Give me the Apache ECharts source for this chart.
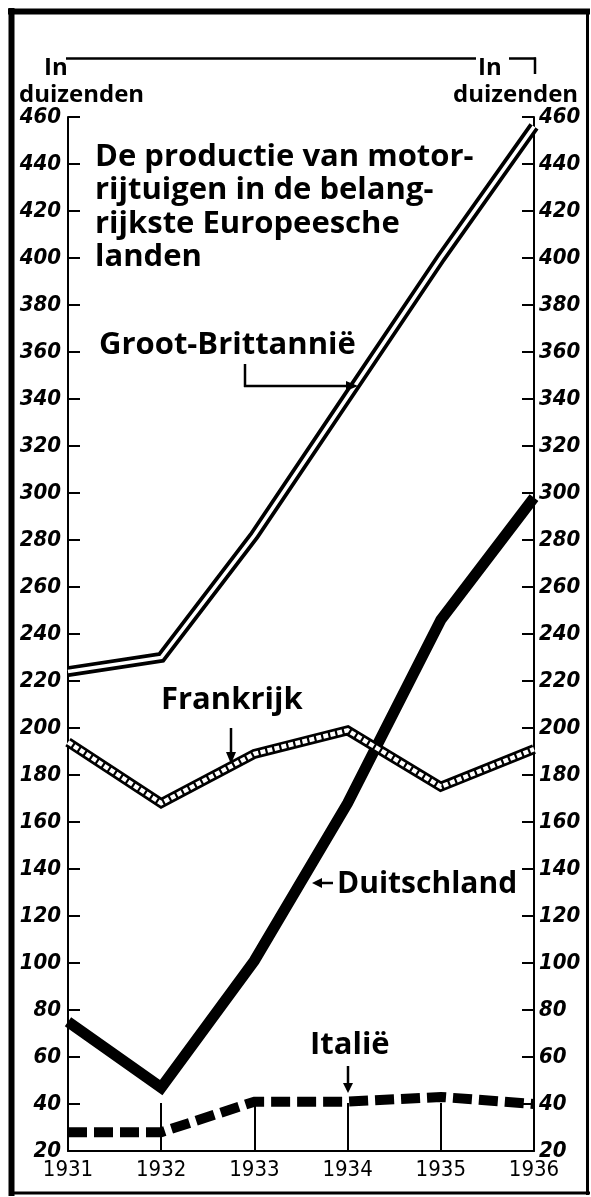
<!DOCTYPE html>
<html><head><meta charset="utf-8">
<script src="https://cdn.jsdelivr.net/npm/echarts@6/dist/echarts.min.js"></script>
<style>html,body{margin:0;padding:0;background:#fff}#c{width:591px;height:1197px}</style>
</head><body><div id="c"></div>
<script>
// ---- data ----
const years = ['1931', '1932', '1933', '1934', '1935', '1936'];
const grootBrittannie = [224, 230, 282, 341, 400, 456];
const frankrijk = [194, 168, 189, 199, 175, 191];
const duitschland = [75, 47, 101, 168, 246, 298];
const italie = [28, 28, 41, 41, 43, 40];
const yMin = 20, yMax = 460, yStep = 20;
const titleLines = ['De productie van motor-', 'rijtuigen in de belang-', 'rijkste Europeesche', 'landen'];

// ---- chart ----
const chart = echarts.init(document.getElementById('c'), null, {renderer: 'canvas'});
const K = '#000';
const labFont = "'Open Sans', 'DejaVu Sans', sans-serif";
const numFont = "'DejaVu Sans Condensed', 'DejaVu Sans', sans-serif";
const yAxisBase = (pos) => ({
  type: 'value', position: pos, min: yMin, max: yMax, interval: yStep,
  axisLine: {show: true, lineStyle: {color: K, width: 2}},
  axisTick: {show: true, inside: true, length: 12, lineStyle: {color: K, width: 2}},
  axisLabel: {color: K, fontFamily: numFont, fontStyle: 'italic', fontWeight: 'bold', fontSize: 22, margin: pos === 'left' ? 7 : 5},
  splitLine: {show: false}
});
const line = (data, width, color, z, extra) => Object.assign({
  type: 'line', data: data, symbol: 'none', silent: true, z: z,
  lineStyle: Object.assign({color: color, width: width, cap: 'butt', join: 'miter'}, extra || {})
});

function txt(x, y, text, size, align) {
  return {type: 'text', x: x, y: y, z: 100, style: {text: text, fill: K, font: '700 ' + size + 'px ' + labFont, align: align || 'left', verticalAlign: 'middle'}};
}
function seg(x1, y1, x2, y2, w) {
  return {type: 'line', z: 100, shape: {x1: x1, y1: y1, x2: x2, y2: y2}, style: {stroke: K, lineWidth: w || 2.5}};
}
function tri(points) {
  return {type: 'polygon', z: 100, shape: {points: points}, style: {fill: K}};
}

const graphic = [
  // border
  seg(11.5, 8, 11.5, 1196, 6), seg(8, 11.5, 590, 11.5, 6),
  seg(587.5, 9, 587.5, 1195, 3), seg(9, 1193, 590, 1193, 3),
  // top rule + unit labels
  seg(66, 58.5, 476, 58.5, 2.5),
  seg(509, 58.5, 536, 58.5, 2.5), seg(535, 57.5, 535, 74, 2.5),
  txt(44, 68, 'In', 24), txt(19, 95, 'duizenden', 24),
  txt(478, 68, 'In', 24), txt(453, 95, 'duizenden', 24)
];
titleLines.forEach((t, i) => graphic.push(txt(95, 157 + i * 33.5, t, 31)));
graphic.push(
  txt(99, 345, 'Groot-Brittannië', 31),
  seg(245, 364, 245, 387), seg(244, 386, 350, 386), tri([[346, 381], [358, 386], [346, 391]]),
  txt(161, 700, 'Frankrijk', 31),
  seg(231, 728, 231, 755), tri([[226, 752], [231, 764], [236, 752]]),
  txt(337, 884, 'Duitschland', 30),
  seg(333, 883, 320, 883), tri([[322, 878], [312, 883], [322, 888]]),
  txt(310, 1045, 'Italië', 31),
  seg(348, 1066, 348, 1090), tri([[343, 1083], [348, 1093], [353, 1083]])
);

chart.setOption({
  backgroundColor: '#fff',
  animation: false,
  grid: {left: 68, right: 57, top: 117, bottom: 46, containLabel: false},
  xAxis: {
    type: 'category', data: years, boundaryGap: false,
    axisLine: {lineStyle: {color: K, width: 2}},
    axisTick: {show: true, inside: true, length: 48, lineStyle: {color: K, width: 2}},
    axisLabel: {color: K, fontFamily: numFont, fontSize: 22, margin: 8, showMinLabel: true, showMaxLabel: true, interval: 0}
  },
  yAxis: [yAxisBase('left'), yAxisBase('right')],
  series: [
    line(grootBrittannie, 11, K, 3),
    line(grootBrittannie, 3.5, '#fff', 4),
    line(duitschland, 11, K, 5),
    line(frankrijk, 10, K, 6),
    line(frankrijk, 4.5, '#fff', 7, {type: [5, 2.2]}),
    line(italie, 10, K, 8, {type: [19, 7]})
  ],
  graphic: graphic
});
</script></body></html>
